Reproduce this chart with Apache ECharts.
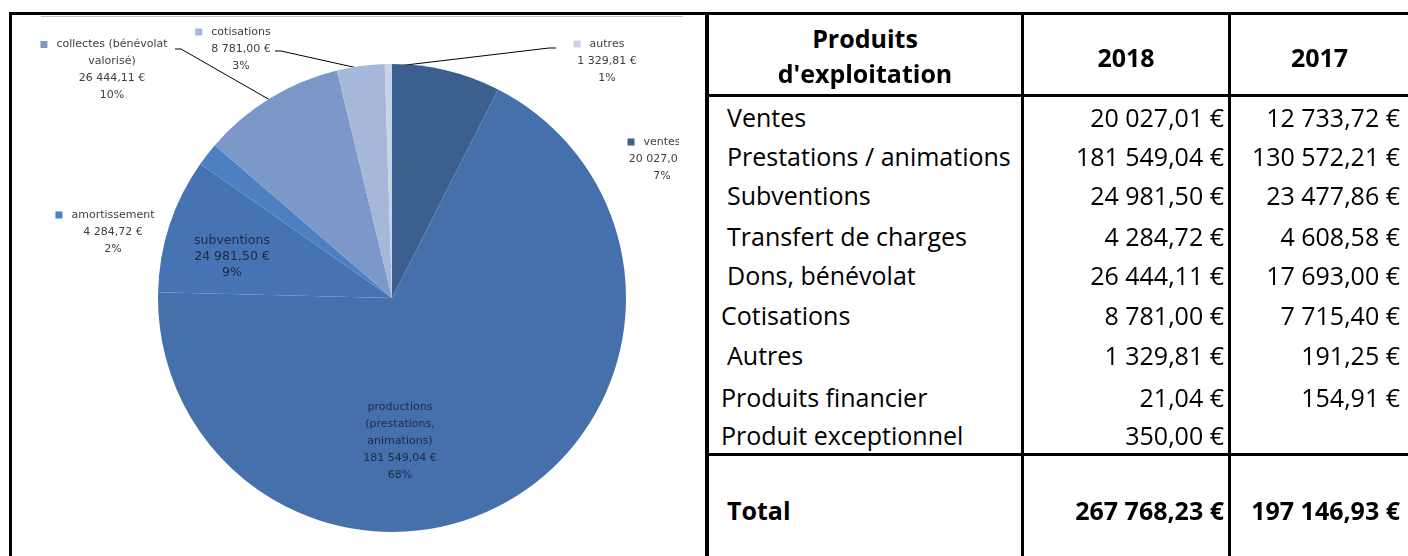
<!DOCTYPE html>
<html>
<head>
<meta charset="utf-8">
<script src="https://cdn.jsdelivr.net/npm/echarts@6/dist/echarts.min.js"></script>
<style>
    html, body { margin: 0; padding: 0; background: #fff; }
    #page { position: relative; width: 1408px; height: 556px; overflow: hidden; background: #fff; }
    .ln { position: absolute; background: #000; }
    #chart { position: absolute; left: 13px; top: 15px; width: 666px; height: 541px; }
    .t { position: absolute; font-family: 'Open Sans', sans-serif; font-size: 25px; color: #000;
         white-space: nowrap; line-height: 30px; height: 30px; }
    .b { font-weight: bold; }
</style>
</head>
<body>
<div id="page">
    <div id="chart"></div>
    <div class="ln" style="left:41px;top:16px;width:642px;height:1px;background:#c4c4c4"></div>
</div>
<script>
// camembert : produits 2018
const pieNames = ['ventes', 'productions\n(prestations,\nanimations)', 'subventions', 'amortissement',
    'collectes (bénévolat\nvalorisé)', 'cotisations', 'autres'];
const pieValues = [20027.01, 181549.04, 24981.50, 4284.72, 26444.11, 8781.00, 1329.81];

// tableau
const rowLabels = ['Ventes', 'Prestations / animations', 'Subventions', 'Transfert de charges',
    'Dons, bénévolat', 'Cotisations', 'Autres', 'Produits financier', 'Produit exceptionnel'];
const values2018 = [20027.01, 181549.04, 24981.50, 4284.72, 26444.11, 8781.00, 1329.81, 21.04, 350.00];
const values2017 = [12733.72, 130572.21, 23477.86, 4608.58, 17693.00, 7715.40, 191.25, 154.91, null];
const years = ['2018', '2017'];
const totals = [267768.23, 197146.93];

const colors = ['#3b5f8f', '#4670ab', '#4674b3', '#4d80c2', '#7b98c9', '#a6b8da', '#c8d2e8'];

function fmtEuro(v) {
    const s = v.toFixed(2).split('.');
    return s[0].replace(/\B(?=(\d{3})+(?!\d))/g, '\u00a0') + ',' + s[1] + '\u00a0€';
}

// ---- tableau en HTML ----
const page = document.getElementById('page');
function add(html, css, cls) {
    const d = document.createElement('div');
    d.className = cls || 't';
    d.innerHTML = html;
    d.style.cssText = css;
    page.appendChild(d);
}
// traits
add('', 'left:9px;top:12px;width:1399px;height:3px', 'ln');
add('', 'left:9px;top:12px;width:3px;height:544px', 'ln');
add('', 'left:705px;top:12px;width:4px;height:544px', 'ln');
add('', 'left:1021px;top:12px;width:3px;height:544px', 'ln');
add('', 'left:1228px;top:12px;width:3px;height:544px', 'ln');
add('', 'left:707px;top:94px;width:701px;height:3px', 'ln');
add('', 'left:707px;top:453px;width:701px;height:3px', 'ln');

// en-tête
add('Produits', 'left:709px;width:312px;text-align:center;top:23px', 't b');
add("d'exploitation", 'left:709px;width:312px;text-align:center;top:58px', 't b');
add(years[0], 'left:1024px;width:204px;text-align:center;top:42px', 't b');
add(years[1], 'left:1231px;width:177px;text-align:center;top:42px', 't b');

const rowY = [117, 156, 195, 236, 275, 315, 355, 397, 435];
const rowX = [727, 727, 727, 727, 727, 721, 727, 721, 721];
rowLabels.forEach((lab, i) => {
    const top = rowY[i] - 15;
    add(lab, 'left:' + rowX[i] + 'px;top:' + top + 'px');
    add(fmtEuro(values2018[i]), 'left:1024px;width:200px;text-align:right;top:' + top + 'px');
    if (values2017[i] !== null)
        add(fmtEuro(values2017[i]), 'left:1231px;width:169px;text-align:right;top:' + top + 'px');
});
add('Total', 'left:727px;top:495px', 't b');
add(fmtEuro(totals[0]), 'left:1024px;width:200px;text-align:right;top:495px', 't b');
add(fmtEuro(totals[1]), 'left:1231px;width:169px;text-align:right;top:495px', 't b');

// ---- camembert ----
const OFF = [13, 15];
const spots = [[662, 159], [400, 441], [232, 257], [113, 232], [112, 70], [241, 49], [607, 61]];
const leaders = {
    4: [[270, 100], [181, 49], [175, 49]],
    5: [[362, 69], [281, 51], [275, 51]],
    6: [[389, 67], [549, 48], [556, 48]]
};
const inside = [1, 2];

const rich = { gap: { width: 9 }, pad: { width: 16 } };
colors.forEach((c, i) => { rich['k' + i] = { width: 7, height: 7, backgroundColor: c }; });

const data = pieNames.map((n, i) => {
    const item = { name: n, value: pieValues[i], labelLine: { show: !!leaders[i] } };
    if (inside.indexOf(i) >= 0) {
        item.label = { color: '#1d2b45', fontSize: i === 2 ? 12.5 : 11, lineHeight: i === 2 ? 16 : 17 };
    }
    return item;
});

const myChart = echarts.init(document.getElementById('chart'));
myChart.setOption({
    animation: false,
    color: colors,
    series: [{
        type: 'pie',
        center: [392 - OFF[0], 298 - OFF[1]],
        radius: 234,
        startAngle: 90,
        clockwise: true,
        percentPrecision: 0,
        avoidLabelOverlap: false,
        itemStyle: { borderWidth: 0 },
        emphasis: { disabled: true },
        label: {
            show: true,
            position: 'outside',
            fontFamily: 'DejaVu Sans',
            fontSize: 11,
            lineHeight: 17,
            color: '#404040',
            rich: rich,
            formatter: function (p) {
                const lines = p.name.split('\n');
                if (inside.indexOf(p.dataIndex) < 0) {
                    lines[0] = '{k' + p.dataIndex + '|}{gap|}' + lines[0] + '{pad|}';
                }
                lines.push(fmtEuro(p.value));
                lines.push(p.percent + '%');
                return lines.join('\n');
            }
        },
        labelLine: { lineStyle: { color: '#000', width: 1 } },
        labelLayout: function (params) {
            const i = params.dataIndex;
            const res = {
                x: spots[i][0] - OFF[0],
                y: spots[i][1] - OFF[1],
                align: 'center',
                verticalAlign: 'middle'
            };
            if (leaders[i]) {
                res.labelLinePoints = leaders[i].map(q => [q[0] - OFF[0], q[1] - OFF[1]]);
            }
            return res;
        },
        data: data
    }]
});
</script>
</body>
</html>
